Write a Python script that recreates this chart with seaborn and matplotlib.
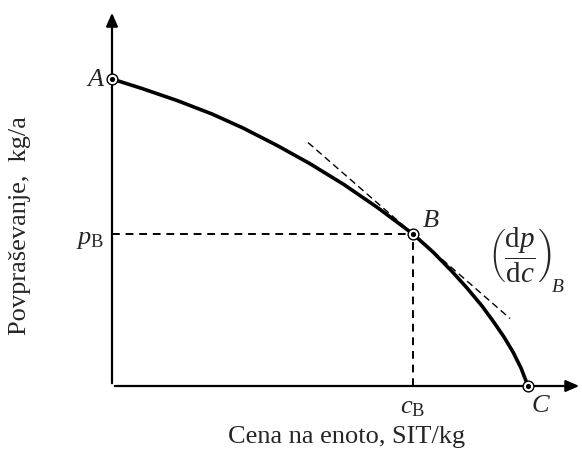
import numpy as np
import pandas as pd
import matplotlib
matplotlib.use("Agg")
import matplotlib.pyplot as plt
import seaborn as sns

# demand curve (price c, demand p), arbitrary units
cena = [0, 30, 65, 100, 131, 165, 198, 232, 265, 301, 321, 340, 355, 370, 381, 392, 401, 409, 416]
povp = [307, 297.5, 285.5, 272, 258, 240.6, 222.3, 201.4, 178.8, 152, 134, 114.6, 98, 80, 65, 49, 34, 18, 0]

# labelled points A, B, C
tocke_x = [0, 301, 416]
tocke_y = [307, 152, 0]

# tangent at B
naklon_B = -0.871
tangenta_x = [196, 398]

df = pd.DataFrame({"cena": cena, "povp": povp})
tocke = pd.DataFrame({"x": tocke_x, "y": tocke_y})
tang = pd.DataFrame({"x": tangenta_x})
tang["y"] = tocke_y[1] + naklon_B * (tang["x"] - tocke_x[1])

sns.set_style("white")
plt.rcParams["font.family"] = ["Liberation Serif", "DejaVu Serif"]
plt.rcParams["mathtext.fontset"] = "custom"
plt.rcParams["mathtext.rm"] = "Liberation Serif"
plt.rcParams["mathtext.it"] = "Liberation Serif:italic"

fig = plt.figure(figsize=(5.82, 4.54), dpi=100)
ax = fig.add_axes([0, 0, 1, 1])
ax.set_xlim(-112, 470)
ax.set_ylim(-68, 386)
ax.axis("off")

# axes with arrows
puscica = dict(arrowstyle="-|>,head_length=0.8,head_width=0.35", color="black", lw=1.6)
ax.annotate("", xy=(470, 0), xytext=(0, 0), arrowprops=puscica, annotation_clip=False)
ax.annotate("", xy=(0, 376), xytext=(0, 0), arrowprops=puscica, annotation_clip=False)

# dashed guides to B
bx, by = tocke_x[1], tocke_y[1]
ax.plot([0, bx], [by, by], ls=(0, (4, 3)), color="black", lw=1.4)
ax.plot([bx, bx], [0, by], ls=(0, (4, 3)), color="black", lw=1.4)

sns.lineplot(data=tang, x="x", y="y", ax=ax, color="black", lw=1.0,
             linestyle=(0, (5, 3)), sort=False)
sns.lineplot(data=df, x="cena", y="povp", ax=ax, color="black", lw=2.6, sort=False)

sns.scatterplot(data=tocke, x="x", y="y", ax=ax, s=60, color="white",
                edgecolor="black", linewidth=1.0, zorder=5)
sns.scatterplot(data=tocke, x="x", y="y", ax=ax, s=14, color="black",
                edgecolor="black", linewidth=0, zorder=6)

fs = 19
ax.text(-8, 306, "A", fontsize=fs, style="italic", ha="right", va="center")
ax.text(311, 165, "B", fontsize=fs, style="italic", ha="left", va="center")
ax.text(428, -20, "C", fontsize=fs, style="italic", ha="center", va="center")
ax.text(-8, 146, r"$p_{\mathrm{B}}$", fontsize=fs, ha="right", va="center")
ax.text(301, -22, r"$c_{\mathrm{B}}$", fontsize=fs, ha="center", va="center")
ax.text(376, 131, r"$\left(\dfrac{\mathrm{d}p}{\mathrm{d}c}\right)$", fontsize=21,
        ha="left", va="center")
ax.text(440, 98, "B", fontsize=14, style="italic", ha="left", va="center")

ax.text(235, -51, "Cena na enoto, SIT/kg", fontsize=19, ha="center", va="center")
ax.text(-92, 160, "Povpraševanje,  kg/a", fontsize=19, ha="center", va="center",
        rotation=90)

plt.savefig("out.png", dpi=100)
